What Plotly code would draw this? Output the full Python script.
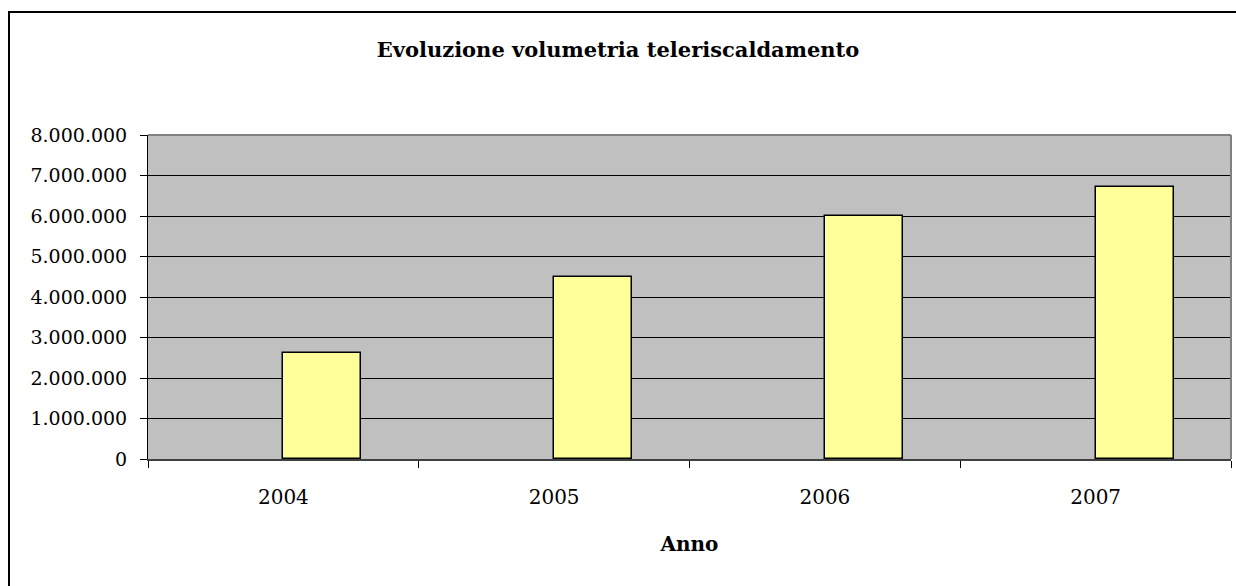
import plotly.graph_objects as go

anni = ["2004", "2005", "2006", "2007"]
volumetria = [2620000, 4500000, 6000000, 6710000]
y_ticks = [0, 1000000, 2000000, 3000000, 4000000, 5000000, 6000000, 7000000, 8000000]

W, H = 1236, 586
L, R, T, B = 148, 5, 135, 127
pw = W - L - R
ph = H - T - B

fig = go.Figure()
fig.add_trace(go.Bar(
    x=anni, y=volumetria,
    width=0.288, offset=0,
    marker=dict(color="#FFFF99", line=dict(color="#000000", width=1.5)),
    showlegend=False,
))

FONT = "DejaVu Serif"

def px_x(p):
    return (p - L) / pw

def px_y(p):
    return (H - B - p) / ph

fig.update_layout(
    width=W, height=H,
    margin=dict(l=L, r=R, t=T, b=B, autoexpand=False),
    paper_bgcolor="white",
    plot_bgcolor="#C0C0C0",
    separators=",.",
    font=dict(family=FONT, size=19, color="#000000"),
    title=dict(text="<b>Evoluzione volumetria teleriscaldamento</b>",
               x=0.5, xanchor="center", y=1 - 50 / H, yanchor="middle",
               font=dict(family=FONT, size=21, color="#000000")),
    xaxis=dict(
        title=dict(text="<b>Anno</b>", font=dict(family=FONT, size=20), standoff=29),
        showgrid=False,
        tickson="boundaries",
        ticks="outside", ticklen=7, tickcolor="#000000", tickwidth=1,
        showline=True, linecolor="#404040", linewidth=2,
        ticklabelstandoff=19,
        tickfont=dict(family=FONT, size=20),
    ),
    yaxis=dict(
        range=[0, 8000000],
        tickvals=y_ticks,
        tickformat=",d",
        showgrid=True, gridcolor="#000000", gridwidth=1,
        zeroline=False,
        ticks="outside", ticklen=7, tickcolor="#000000", tickwidth=1,
        showline=True, linecolor="#000000", linewidth=1,
        ticklabelstandoff=9,
        tickfont=dict(family=FONT, size=19),
    ),
    bargap=0,
)

# plot area border (top/right gray)
fig.add_shape(type="line", xref="paper", yref="paper", x0=0, x1=1, y0=1, y1=1,
              line=dict(color="#808080", width=2), layer="above")
fig.add_shape(type="line", xref="paper", yref="paper", x0=1, x1=1, y0=0, y1=1,
              line=dict(color="#808080", width=2), layer="above")

# outer chart frame (left and top visible)
fig.add_shape(type="line", xref="paper", yref="paper",
              x0=px_x(9), x1=px_x(9), y0=px_y(12), y1=px_y(600),
              line=dict(color="#000000", width=2), layer="above")
fig.add_shape(type="line", xref="paper", yref="paper",
              x0=px_x(8), x1=px_x(1250), y0=px_y(12), y1=px_y(12),
              line=dict(color="#000000", width=2), layer="above")

fig.write_html(
    "out.html",
    config={"displayModeBar": False},
    post_script="document.body.style.margin='0';document.body.style.padding='0';"
                "document.body.style.overflow='hidden';",
)
